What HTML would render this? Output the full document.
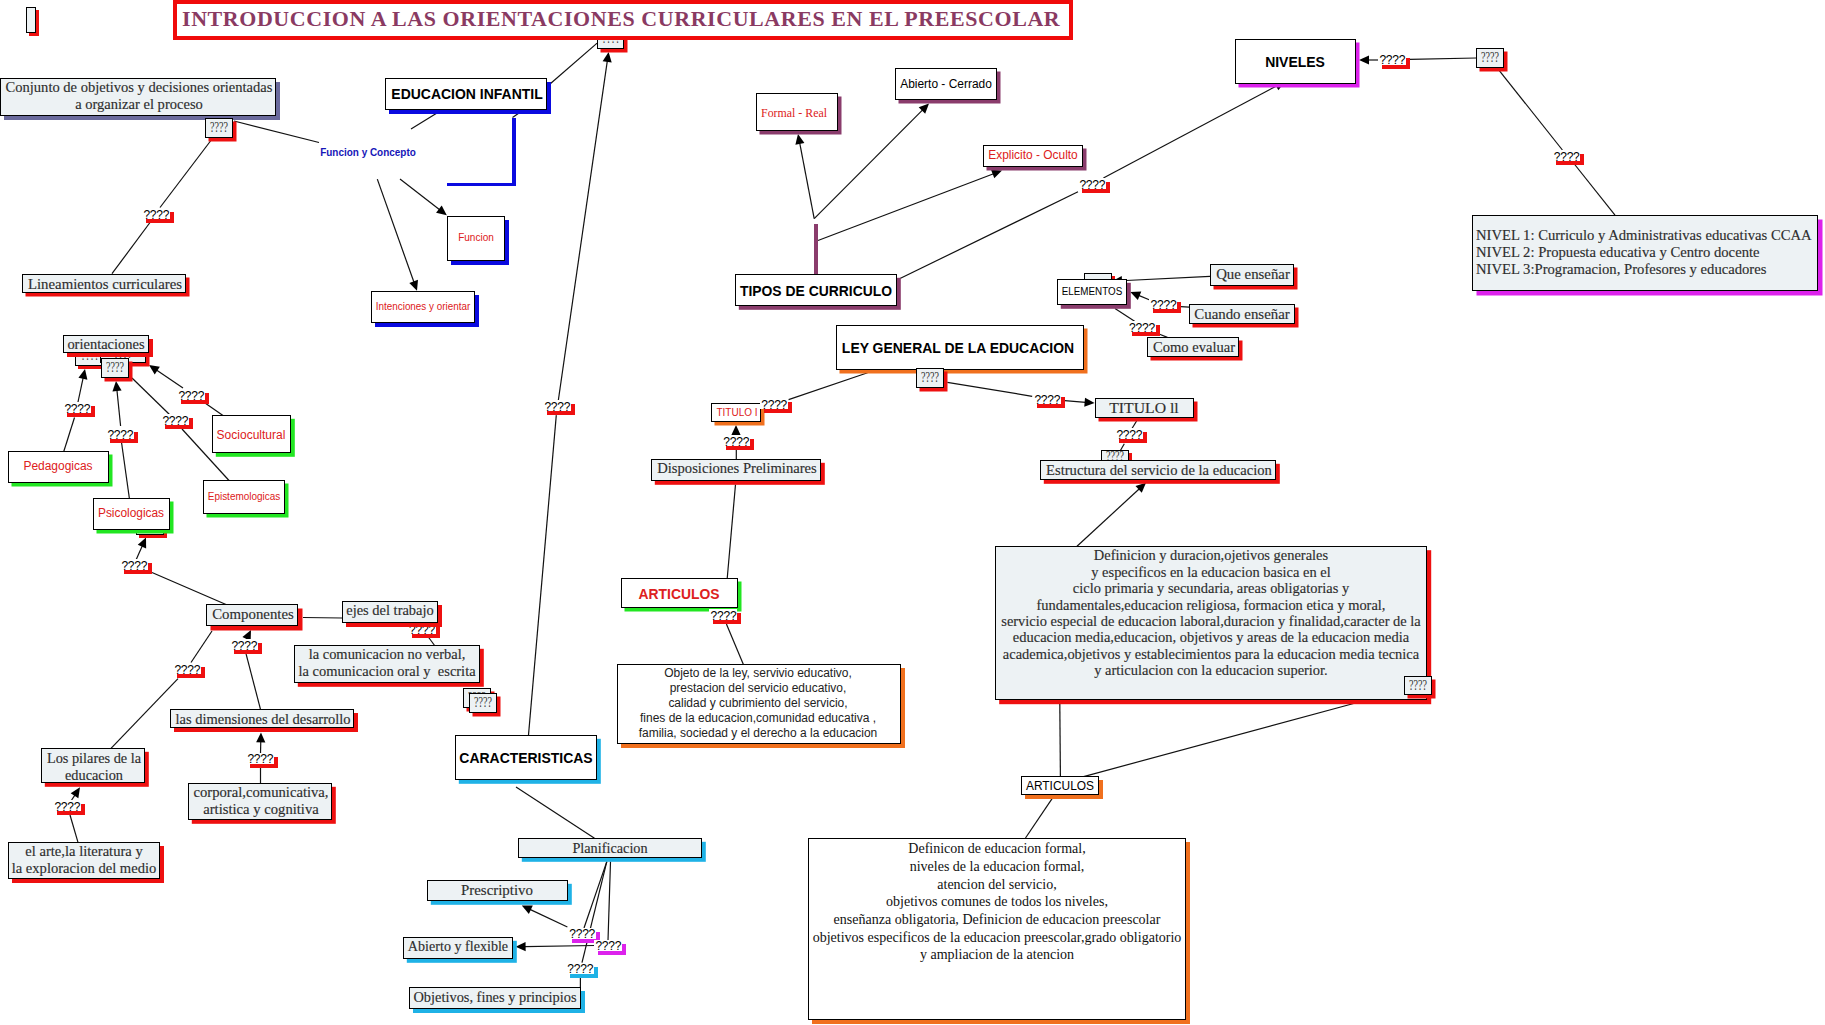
<!DOCTYPE html><html><head><meta charset="utf-8"><style>
html,body{margin:0;padding:0;background:#fff;width:1825px;height:1025px;overflow:hidden;position:relative}
.bx{position:absolute;box-sizing:border-box;border:1.2px solid #000}
.lb{position:absolute;background:#fff}
.tx{position:absolute;white-space:pre;line-height:1;display:block}
.lq{position:absolute;white-space:pre;font-family:"Liberation Sans",sans-serif;font-size:12px;line-height:12px;color:#000;letter-spacing:-0.2px}
.qb{position:absolute;white-space:pre;font-family:"Liberation Serif",serif;font-size:14px;line-height:14px;color:#333;transform:translateX(-50%) scaleX(0.72)}
svg{position:absolute;left:0;top:0}
svg line{stroke:#111;stroke-width:1.2}
svg polygon{fill:#000}
</style></head><body>
<svg width="1825" height="1025" viewBox="0 0 1825 1025">
<line x1="550" y1="84" x2="597.1" y2="43.1"/>
<line x1="234" y1="121" x2="319" y2="142.5"/>
<line x1="411" y1="129" x2="437" y2="113"/>
<line x1="512.5" y1="117.5" x2="519" y2="113"/>
<line x1="210.5" y1="141" x2="160" y2="207.5"/>
<line x1="150" y1="222.5" x2="112" y2="273.7"/>
<line x1="556.3" y1="415.1" x2="528.5" y2="735"/>
<line x1="132" y1="378" x2="170" y2="415"/>
<line x1="205" y1="403" x2="223" y2="415.5"/>
<line x1="74.5" y1="417.5" x2="63.7" y2="451.7"/>
<line x1="121.6" y1="443" x2="129.4" y2="498.5"/>
<line x1="182" y1="429" x2="229" y2="480.5"/>
<line x1="152" y1="572.5" x2="226" y2="604.5"/>
<line x1="303" y1="617.5" x2="342" y2="618"/>
<line x1="212" y1="631" x2="191" y2="662.5"/>
<line x1="178" y1="678.7" x2="111" y2="748.4"/>
<line x1="260.5" y1="709.4" x2="246" y2="653.7"/>
<line x1="70" y1="815" x2="78" y2="842.3"/>
<line x1="260.5" y1="767.4" x2="260.5" y2="783.6"/>
<line x1="427.6" y1="636" x2="434.6" y2="645.5"/>
<line x1="516" y1="787" x2="594.5" y2="838.2"/>
<line x1="606.8" y1="861.6" x2="584" y2="928"/>
<line x1="606.8" y1="861.6" x2="582" y2="962.7"/>
<line x1="610.5" y1="861.6" x2="608" y2="940.5"/>
<line x1="580.4" y1="977" x2="580.4" y2="987.4"/>
<line x1="900" y1="278.5" x2="1078" y2="191.8"/>
<line x1="1409.7" y1="59.4" x2="1476.1" y2="58"/>
<line x1="1499.5" y1="70.8" x2="1562.4" y2="150"/>
<line x1="1574.7" y1="164.5" x2="1615" y2="215.1"/>
<line x1="1180.8" y1="306.6" x2="1189.2" y2="307.2"/>
<line x1="1115" y1="308.5" x2="1134.6" y2="321.2"/>
<line x1="1159.6" y1="334.3" x2="1167.4" y2="337.4"/>
<line x1="788.6" y1="399.6" x2="867.6" y2="372.8"/>
<line x1="947.3" y1="382.3" x2="1032.2" y2="396.3"/>
<line x1="1136.6" y1="421" x2="1132" y2="428.5"/>
<line x1="1124.3" y1="443.7" x2="1120.4" y2="450.5"/>
<line x1="736.3" y1="450" x2="736.3" y2="459.2"/>
<line x1="735.5" y1="484.5" x2="727.2" y2="578.5"/>
<line x1="726.4" y1="624" x2="743.4" y2="664.4"/>
<line x1="1059.8" y1="703" x2="1060.4" y2="776.6"/>
<line x1="1083.6" y1="776.6" x2="1355.5" y2="703"/>
<line x1="1052.6" y1="797.8" x2="1025.5" y2="838"/>
<line x1="400" y1="179.1" x2="439.67" y2="209.7"/><polygon points="446.8,215.2 436.07,212.73 441.69,205.45"/>
<line x1="377.3" y1="179.1" x2="413.99" y2="282.32"/><polygon points="417,290.8 409.32,282.92 417.99,279.84"/>
<line x1="558.3" y1="400.5" x2="607.31" y2="60.91"/><polygon points="608.6,52 611.72,62.55 602.62,61.24"/>
<line x1="78" y1="402" x2="83.13" y2="377.8"/><polygon points="85,369 87.42,379.74 78.43,377.83"/>
<line x1="120.6" y1="426" x2="116.92" y2="389.95"/><polygon points="116,381 121.59,390.48 112.44,391.42"/>
<line x1="183" y1="388" x2="156.45" y2="370.04"/><polygon points="149,365 159.86,366.79 154.71,374.41"/>
<line x1="136" y1="560" x2="142.34" y2="545.72"/><polygon points="146,537.5 146.14,548.51 137.74,544.77"/>
<line x1="246" y1="640" x2="246.98" y2="638.05"/><polygon points="251,630 250.64,641 242.41,636.89"/>
<line x1="71" y1="801" x2="75.06" y2="794.82"/><polygon points="80,787.3 78.35,798.18 70.66,793.13"/>
<line x1="260.5" y1="753" x2="260.78" y2="741.4"/><polygon points="261,732.4 265.36,742.51 256.16,742.29"/>
<line x1="567.4" y1="927" x2="529.94" y2="909.34"/><polygon points="521.8,905.5 532.81,905.6 528.88,913.93"/>
<line x1="594.5" y1="945.5" x2="524.6" y2="946.56"/><polygon points="515.6,946.7 525.53,941.95 525.67,951.15"/>
<line x1="814.2" y1="218.6" x2="799.69" y2="142.84"/><polygon points="798,134 804.4,142.96 795.36,144.69"/>
<line x1="814.2" y1="218.6" x2="922.64" y2="109.87"/><polygon points="929,103.5 925.2,113.83 918.68,107.33"/>
<line x1="818" y1="240.5" x2="993.59" y2="173.7"/><polygon points="1002,170.5 994.29,178.36 991.02,169.76"/>
<line x1="1103.4" y1="178" x2="1277.05" y2="85.63"/><polygon points="1285,81.4 1278.33,90.16 1274.01,82.04"/>
<line x1="1378" y1="60" x2="1368" y2="60"/><polygon points="1359,60 1369,55.4 1369,64.6"/>
<line x1="1210" y1="276.3" x2="1120.99" y2="280.75"/><polygon points="1112,281.2 1121.76,276.11 1122.22,285.29"/>
<line x1="1149.2" y1="299.7" x2="1138.63" y2="295.4"/><polygon points="1130.3,292 1141.3,291.51 1137.83,300.03"/>
<line x1="1064.8" y1="400.6" x2="1085.63" y2="402.35"/><polygon points="1094.6,403.1 1084.25,406.85 1085.02,397.68"/>
<line x1="736" y1="436" x2="736" y2="433.9"/><polygon points="736,424.9 740.6,434.9 731.4,434.9"/>
<line x1="1077" y1="546.2" x2="1139.38" y2="488.79"/><polygon points="1146,482.7 1141.76,492.86 1135.53,486.09"/>
</svg>
<div style="position:absolute;left:512px;top:117.5px;width:3.5px;height:68.5px;background:#0a0ae0"></div>
<div style="position:absolute;left:446.5px;top:182.5px;width:69px;height:3.7px;background:#0a0ae0"></div>
<div style="position:absolute;left:814px;top:223.7px;width:3.6px;height:50.3px;background:#8a3c6c"></div>
<div class="lb" style="left:407.6px;top:623.2px;width:28px;height:11px;box-shadow:4px 4px 0 #ee1010"></div><span class="lq" style="left:409px;top:623.8px">????</span>
<div class="bx" style="left:26px;top:7px;width:10px;height:26px;background:#edf2f4;box-shadow:3px 3px 0 #ee1010"></div>
<div class="bx" style="left:0px;top:78px;width:276px;height:38px;background:#edf2f4;box-shadow:4px 4px 0 #6a6a9c"></div>
<div class="bx" style="left:205px;top:118px;width:28px;height:20px;background:#edf2f4;box-shadow:3.5px 3.5px 0 #ee1010"></div>
<span class="qb" style="left:218.85px;top:121.3px">????</span>
<div class="bx" style="left:597px;top:36px;width:27px;height:13px;background:#edf2f4;box-shadow:3.5px 3.5px 0 #ee1010"></div>
<span class="qb" style="left:610.65px;top:32.4px">????</span>
<div class="bx" style="left:385px;top:78px;width:162px;height:32px;background:#fff;box-shadow:4px 4px 0 #0a0ae0"></div>
<div class="bx" style="left:447px;top:216px;width:58px;height:45px;background:#fff;box-shadow:4px 4px 0 #0a0ae0"></div>
<div class="bx" style="left:371px;top:291px;width:104px;height:32px;background:#fff;box-shadow:4px 4px 0 #0a0ae0"></div>
<div class="bx" style="left:22px;top:274px;width:164px;height:19px;background:#edf2f4;box-shadow:3.5px 3.5px 0 #ee1010"></div>
<div class="bx" style="left:75px;top:350px;width:29px;height:16px;background:#edf2f4;box-shadow:3px 3px 0 #ee1010"></div>
<span class="qb" style="left:89.6px;top:349.1px">????</span>
<div class="bx" style="left:100px;top:350px;width:46px;height:13px;background:#edf2f4;box-shadow:3.5px 3.5px 0 #ee1010"></div>
<span class="qb" style="left:122.65px;top:346.8px">????</span>
<div class="bx" style="left:63px;top:335px;width:86px;height:18px;background:#edf2f4;box-shadow:4px 4px 0 #ee1010"></div>
<div class="bx" style="left:101px;top:358px;width:28px;height:20px;background:#edf2f4;box-shadow:3.5px 3.5px 0 #ee1010"></div>
<span class="qb" style="left:114.9px;top:361.1px">????</span>
<div class="bx" style="left:212px;top:415px;width:79px;height:38px;background:#fff;box-shadow:3.8px 3.8px 0 #22e622"></div>
<div class="bx" style="left:8px;top:451px;width:101px;height:32px;background:#fff;box-shadow:3.5px 3.5px 0 #22e622"></div>
<div class="bx" style="left:203px;top:480px;width:82px;height:34px;background:#fff;box-shadow:3.5px 3.5px 0 #22e622"></div>
<div class="bx" style="left:136px;top:520px;width:28px;height:15px;background:#edf2f4;box-shadow:3px 3px 0 #ee1010"></div>
<div class="bx" style="left:93px;top:498px;width:77px;height:32px;background:#fff;box-shadow:3.5px 3.5px 0 #22e622"></div>
<div class="bx" style="left:206px;top:604px;width:92px;height:22px;background:#edf2f4;box-shadow:4.5px 4.5px 0 #ee1010"></div>
<div class="bx" style="left:342px;top:601px;width:96px;height:22px;background:#edf2f4;box-shadow:4px 4px 0 #ee1010"></div>
<div class="bx" style="left:294px;top:645px;width:186px;height:38px;background:#edf2f4;box-shadow:3.8px 3.8px 0 #ee1010"></div>
<div class="bx" style="left:463px;top:688px;width:28px;height:20px;background:#edf2f4;box-shadow:3.5px 3.5px 0 #ee1010"></div>
<span class="qb" style="left:477.15px;top:691.2px">????</span>
<div class="bx" style="left:469px;top:693px;width:28px;height:20px;background:#edf2f4;box-shadow:3.5px 3.5px 0 #ee1010"></div>
<span class="qb" style="left:483.25px;top:696.2px">????</span>
<div class="bx" style="left:170px;top:709px;width:184px;height:19px;background:#edf2f4;box-shadow:4px 4px 0 #ee1010"></div>
<div class="bx" style="left:41px;top:748px;width:104px;height:35px;background:#edf2f4;box-shadow:3.8px 3.8px 0 #ee1010"></div>
<div class="bx" style="left:188px;top:783px;width:144px;height:37px;background:#edf2f4;box-shadow:3.8px 3.8px 0 #ee1010"></div>
<div class="bx" style="left:8px;top:842px;width:152px;height:37px;background:#edf2f4;box-shadow:4px 4px 0 #ee1010"></div>
<div class="bx" style="left:455px;top:735px;width:142px;height:45px;background:#fff;box-shadow:3.8px 3.8px 0 #1fb2e6"></div>
<div class="bx" style="left:518px;top:838px;width:184px;height:20px;background:#edf2f4;box-shadow:3.8px 3.8px 0 #1fb2e6"></div>
<div class="bx" style="left:427px;top:880px;width:141px;height:21px;background:#edf2f4;box-shadow:3.8px 3.8px 0 #1fb2e6"></div>
<div class="bx" style="left:403px;top:937px;width:110px;height:22px;background:#edf2f4;box-shadow:3.8px 3.8px 0 #1fb2e6"></div>
<div class="bx" style="left:409px;top:987px;width:172px;height:22px;background:#edf2f4;box-shadow:4px 4px 0 #1fb2e6"></div>
<div class="bx" style="left:756px;top:93px;width:82px;height:38px;background:#fff;box-shadow:3.5px 3.5px 0 #8a3c6c"></div>
<div class="bx" style="left:895px;top:68px;width:102px;height:32px;background:#fff;box-shadow:3.5px 3.5px 0 #8a3c6c"></div>
<div class="bx" style="left:983px;top:145px;width:100px;height:22px;background:#fff;box-shadow:3.5px 3.5px 0 #8a3c6c"></div>
<div class="bx" style="left:735px;top:274px;width:162px;height:32px;background:#fff;box-shadow:3.8px 3.8px 0 #8a3c6c"></div>
<div class="bx" style="left:1235px;top:39px;width:121px;height:45px;background:#fff;box-shadow:3.5px 3.5px 0 #dc22ec"></div>
<div class="bx" style="left:1476px;top:48px;width:28px;height:20px;background:#edf2f4;box-shadow:3.5px 3.5px 0 #ee1010"></div>
<span class="qb" style="left:1489.7px;top:51px">????</span>
<div class="bx" style="left:1472px;top:215px;width:346px;height:76px;background:#edf2f4;box-shadow:4.5px 4.5px 0 #dc22ec"></div>
<div class="bx" style="left:1084px;top:273px;width:28px;height:23px;background:#edf2f4;box-shadow:3px 3px 0 #ee1010"></div>
<span class="qb" style="left:1097.95px;top:279.7px">????</span>
<div class="bx" style="left:1057px;top:279px;width:70px;height:26px;background:#fff;box-shadow:3.8px 3.8px 0 #8a3c6c"></div>
<div class="bx" style="left:1210px;top:264px;width:84px;height:22px;background:#edf2f4;box-shadow:3.5px 3.5px 0 #ee1010"></div>
<div class="bx" style="left:1189px;top:304px;width:106px;height:20px;background:#edf2f4;box-shadow:3.5px 3.5px 0 #ee1010"></div>
<div class="bx" style="left:1147px;top:337px;width:92px;height:20px;background:#edf2f4;box-shadow:3.5px 3.5px 0 #ee1010"></div>
<div class="bx" style="left:836px;top:325px;width:248px;height:45px;background:#fff;box-shadow:3.5px 3.5px 0 #f0701e"></div>
<div class="bx" style="left:916px;top:368px;width:28px;height:20px;background:#edf2f4;box-shadow:3.5px 3.5px 0 #ee1010"></div>
<span class="qb" style="left:929.8px;top:371.3px">????</span>
<div class="bx" style="left:711px;top:403px;width:50px;height:19px;background:#fff;box-shadow:3.5px 3.5px 0 #f0701e"></div>
<div class="bx" style="left:1095px;top:398px;width:99px;height:20px;background:#edf2f4;box-shadow:3.5px 3.5px 0 #ee1010"></div>
<div class="bx" style="left:651px;top:459px;width:170px;height:22px;background:#edf2f4;box-shadow:3.8px 3.8px 0 #ee1010"></div>
<div class="bx" style="left:1101px;top:450px;width:28px;height:16px;background:#edf2f4;box-shadow:3px 3px 0 #ee1010"></div>
<span class="qb" style="left:1115.05px;top:449.7px">????</span>
<div class="bx" style="left:1040px;top:460px;width:236px;height:20px;background:#edf2f4;box-shadow:3.8px 3.8px 0 #ee1010"></div>
<div class="bx" style="left:621px;top:578px;width:117px;height:30px;background:#fff;box-shadow:3.5px 3.5px 0 #22e622"></div>
<div class="bx" style="left:617px;top:664px;width:284px;height:80px;background:#fff;box-shadow:4px 4px 0 #f0701e"></div>
<div class="bx" style="left:995px;top:546px;width:432px;height:154px;background:#edf2f4;box-shadow:4.2px 4.2px 0 #ee1010"></div>
<div class="bx" style="left:1404px;top:676px;width:28px;height:19px;background:#edf2f4;box-shadow:3.5px 3.5px 0 #ee1010"></div>
<span class="qb" style="left:1417.75px;top:678.7px">????</span>
<div class="bx" style="left:1021px;top:776px;width:78px;height:19px;background:#fff;box-shadow:4px 4px 0 #f0701e"></div>
<div class="bx" style="left:808px;top:838px;width:378px;height:182px;background:#fff;box-shadow:4px 4px 0 #f0701e"></div>
<div style="position:absolute;left:172.5px;top:-0.5px;width:900.5px;height:40px;box-sizing:border-box;border:4px solid #f00a0a;background:#fff"></div>
<div class="lb" style="left:142px;top:207.9px;width:28px;height:11px;box-shadow:4px 4px 0 #ee1010"></div><span class="lq" style="left:143.4px;top:208.5px">????</span>
<div class="lb" style="left:177px;top:389.2px;width:28px;height:11px;box-shadow:4px 4px 0 #ee1010"></div><span class="lq" style="left:178.4px;top:389.8px">????</span>
<div class="lb" style="left:63px;top:402.4px;width:28px;height:11px;box-shadow:4px 4px 0 #ee1010"></div><span class="lq" style="left:64.4px;top:403px">????</span>
<div class="lb" style="left:161px;top:414.2px;width:28px;height:11px;box-shadow:4px 4px 0 #ee1010"></div><span class="lq" style="left:162.4px;top:414.8px">????</span>
<div class="lb" style="left:106px;top:427.9px;width:28px;height:11px;box-shadow:4px 4px 0 #ee1010"></div><span class="lq" style="left:107.4px;top:428.5px">????</span>
<div class="lb" style="left:120px;top:559.2px;width:28px;height:11px;box-shadow:4px 4px 0 #ee1010"></div><span class="lq" style="left:121.4px;top:559.8px">????</span>
<div class="lb" style="left:230px;top:639.2px;width:28px;height:11px;box-shadow:4px 4px 0 #ee1010"></div><span class="lq" style="left:231.4px;top:639.8px">????</span>
<div class="lb" style="left:173px;top:662.9px;width:28px;height:11px;box-shadow:4px 4px 0 #ee1010"></div><span class="lq" style="left:174.4px;top:663.5px">????</span>
<div class="lb" style="left:246px;top:752.8px;width:28px;height:11px;box-shadow:4px 4px 0 #ee1010"></div><span class="lq" style="left:247.4px;top:753.4px">????</span>
<div class="lb" style="left:53px;top:800.2px;width:28px;height:11px;box-shadow:4px 4px 0 #ee1010"></div><span class="lq" style="left:54.4px;top:800.8px">????</span>
<div class="lb" style="left:709.2px;top:609.2px;width:28px;height:11px;box-shadow:4px 4px 0 #ee1010"></div><span class="lq" style="left:710.6px;top:609.8px">????</span>
<div class="lb" style="left:759.8px;top:398.2px;width:28px;height:11px;box-shadow:4px 4px 0 #ee1010"></div><span class="lq" style="left:761.2px;top:398.8px">????</span>
<div class="lb" style="left:721.9px;top:435.2px;width:28px;height:11px;box-shadow:4px 4px 0 #ee1010"></div><span class="lq" style="left:723.3px;top:435.8px">????</span>
<div class="lb" style="left:1033px;top:393.2px;width:28px;height:11px;box-shadow:4px 4px 0 #ee1010"></div><span class="lq" style="left:1034.4px;top:393.8px">????</span>
<div class="lb" style="left:1115px;top:428px;width:28px;height:11px;box-shadow:4px 4px 0 #ee1010"></div><span class="lq" style="left:1116.4px;top:428.6px">????</span>
<div class="lb" style="left:1149.2px;top:298.2px;width:28px;height:11px;box-shadow:4px 4px 0 #ee1010"></div><span class="lq" style="left:1150.6px;top:298.8px">????</span>
<div class="lb" style="left:1127.7px;top:321.2px;width:28px;height:11px;box-shadow:4px 4px 0 #ee1010"></div><span class="lq" style="left:1129.1px;top:321.8px">????</span>
<div class="lb" style="left:1078px;top:178.2px;width:28px;height:11px;box-shadow:4px 4px 0 #ee1010"></div><span class="lq" style="left:1079.4px;top:178.8px">????</span>
<div class="lb" style="left:1378px;top:53.7px;width:28px;height:11px;box-shadow:4px 4px 0 #ee1010"></div><span class="lq" style="left:1379.4px;top:54.3px">????</span>
<div class="lb" style="left:1552.3px;top:150.2px;width:28px;height:11px;box-shadow:4px 4px 0 #ee1010"></div><span class="lq" style="left:1553.7px;top:150.8px">????</span>
<div class="lb" style="left:567.8px;top:927.8px;width:28px;height:11px;box-shadow:4px 4px 0 #dc22ec"></div><span class="lq" style="left:569.2px;top:928.4px">????</span>
<div class="lb" style="left:594px;top:939.6px;width:28px;height:11px;box-shadow:4px 4px 0 #dc22ec"></div><span class="lq" style="left:595.4px;top:940.2px">????</span>
<div class="lb" style="left:565.9px;top:962.5px;width:28px;height:11px;box-shadow:4px 4px 0 #1fb2e6"></div><span class="lq" style="left:567.3px;top:963.1px">????</span>
<div class="lb" style="left:543px;top:399.9px;width:28px;height:11px;box-shadow:4px 4px 0 #ee1010"></div><span class="lq" style="left:544.4px;top:400.5px">????</span>
<span class="tx" style="left:182.3px;top:8.71px;font-family:&quot;Liberation Serif&quot;, serif;font-size:21px;font-weight:bold;color:#8a3a62;transform:scaleX(1.0450);transform-origin:left top;letter-spacing:0.566px">INTRODUCCION A LAS ORIENTACIONES CURRICULARES EN EL PREESCOLAR</span>
<span class="tx" style="left:138.9px;top:80.14px;font-family:&quot;Liberation Serif&quot;, serif;font-size:15px;font-weight:normal;color:#2e2e2e;transform:translateX(-50%) scaleX(0.9690);transform-origin:center top;-webkit-text-stroke:0.15px #2e2e2e">Conjunto de objetivos y decisiones orientadas</span>
<span class="tx" style="left:138.9px;top:96.84px;font-family:&quot;Liberation Serif&quot;, serif;font-size:15px;font-weight:normal;color:#2e2e2e;transform:translateX(-50%) scaleX(0.9690);transform-origin:center top;-webkit-text-stroke:0.15px #2e2e2e">a organizar el proceso</span>
<span class="tx" style="left:466.6px;top:87.35px;font-family:&quot;Liberation Sans&quot;, sans-serif;font-size:14px;font-weight:bold;color:#000;transform:translateX(-50%) scaleX(0.9980);transform-origin:center top">EDUCACION INFANTIL</span>
<span class="tx" style="left:368.2px;top:148.03px;font-family:&quot;Liberation Sans&quot;, sans-serif;font-size:10px;font-weight:bold;color:#1616b8;transform:translateX(-50%) scaleX(0.9948);transform-origin:center top">Funcion y Concepto</span>
<span class="tx" style="left:476px;top:233.03px;font-family:&quot;Liberation Sans&quot;, sans-serif;font-size:10px;font-weight:normal;color:#dd2020;transform:translateX(-50%) scaleX(1.0024);transform-origin:center top">Funcion</span>
<span class="tx" style="left:423px;top:301.54px;font-family:&quot;Liberation Sans&quot;, sans-serif;font-size:10px;font-weight:normal;color:#dd2020;transform:translateX(-50%) scaleX(0.9877);transform-origin:center top">Intenciones y orientar</span>
<span class="tx" style="left:104.6px;top:276.94px;font-family:&quot;Liberation Serif&quot;, serif;font-size:15px;font-weight:normal;color:#2e2e2e;transform:translateX(-50%) scaleX(0.9863);transform-origin:center top;-webkit-text-stroke:0.15px #2e2e2e">Lineamientos curriculares</span>
<span class="tx" style="left:106.1px;top:336.94px;font-family:&quot;Liberation Serif&quot;, serif;font-size:15px;font-weight:normal;color:#2e2e2e;transform:translateX(-50%) scaleX(0.9659);transform-origin:center top;-webkit-text-stroke:0.15px #2e2e2e">orientaciones</span>
<span class="tx" style="left:251.4px;top:428.84px;font-family:&quot;Liberation Sans&quot;, sans-serif;font-size:12px;font-weight:normal;color:#dd2020;transform:translateX(-50%) scaleX(1.0024);transform-origin:center top">Sociocultural</span>
<span class="tx" style="left:57.8px;top:459.84px;font-family:&quot;Liberation Sans&quot;, sans-serif;font-size:12px;font-weight:normal;color:#dd2020;transform:translateX(-50%) scaleX(0.9973);transform-origin:center top">Pedagogicas</span>
<span class="tx" style="left:244.3px;top:492.04px;font-family:&quot;Liberation Sans&quot;, sans-serif;font-size:10px;font-weight:normal;color:#dd2020;transform:translateX(-50%) scaleX(0.9957);transform-origin:center top">Epistemologicas</span>
<span class="tx" style="left:131.3px;top:506.84px;font-family:&quot;Liberation Sans&quot;, sans-serif;font-size:12px;font-weight:normal;color:#dd2020;transform:translateX(-50%) scaleX(0.9910);transform-origin:center top">Psicologicas</span>
<span class="tx" style="left:252.9px;top:606.94px;font-family:&quot;Liberation Serif&quot;, serif;font-size:15px;font-weight:normal;color:#2e2e2e;transform:translateX(-50%) scaleX(0.9884);transform-origin:center top;-webkit-text-stroke:0.15px #2e2e2e">Componentes</span>
<span class="tx" style="left:389.7px;top:603.44px;font-family:&quot;Liberation Serif&quot;, serif;font-size:15px;font-weight:normal;color:#2e2e2e;transform:translateX(-50%) scaleX(0.9636);transform-origin:center top;-webkit-text-stroke:0.15px #2e2e2e">ejes del trabajo</span>
<span class="tx" style="left:386.8px;top:646.94px;font-family:&quot;Liberation Serif&quot;, serif;font-size:15px;font-weight:normal;color:#2e2e2e;transform:translateX(-50%) scaleX(0.9646);transform-origin:center top;-webkit-text-stroke:0.15px #2e2e2e">la comunicacion no verbal,</span>
<span class="tx" style="left:386.8px;top:663.64px;font-family:&quot;Liberation Serif&quot;, serif;font-size:15px;font-weight:normal;color:#2e2e2e;transform:translateX(-50%) scaleX(0.9646);transform-origin:center top;-webkit-text-stroke:0.15px #2e2e2e">la comunicacion oral y  escrita</span>
<span class="tx" style="left:262.8px;top:711.94px;font-family:&quot;Liberation Serif&quot;, serif;font-size:15px;font-weight:normal;color:#2e2e2e;transform:translateX(-50%) scaleX(0.9656);transform-origin:center top;-webkit-text-stroke:0.15px #2e2e2e">las dimensiones del desarrollo</span>
<span class="tx" style="left:93.5px;top:751.24px;font-family:&quot;Liberation Serif&quot;, serif;font-size:15px;font-weight:normal;color:#2e2e2e;transform:translateX(-50%) scaleX(0.9540);transform-origin:center top;-webkit-text-stroke:0.15px #2e2e2e">Los pilares de la</span>
<span class="tx" style="left:93.5px;top:767.94px;font-family:&quot;Liberation Serif&quot;, serif;font-size:15px;font-weight:normal;color:#2e2e2e;transform:translateX(-50%) scaleX(0.9540);transform-origin:center top;-webkit-text-stroke:0.15px #2e2e2e">educacion</span>
<span class="tx" style="left:260.9px;top:785.44px;font-family:&quot;Liberation Serif&quot;, serif;font-size:15px;font-weight:normal;color:#2e2e2e;transform:translateX(-50%) scaleX(0.9766);transform-origin:center top;-webkit-text-stroke:0.15px #2e2e2e">corporal,comunicativa,</span>
<span class="tx" style="left:260.9px;top:802.14px;font-family:&quot;Liberation Serif&quot;, serif;font-size:15px;font-weight:normal;color:#2e2e2e;transform:translateX(-50%) scaleX(0.9766);transform-origin:center top;-webkit-text-stroke:0.15px #2e2e2e">artistica y cognitiva</span>
<span class="tx" style="left:84.1px;top:843.94px;font-family:&quot;Liberation Serif&quot;, serif;font-size:15px;font-weight:normal;color:#2e2e2e;transform:translateX(-50%) scaleX(0.9730);transform-origin:center top;-webkit-text-stroke:0.15px #2e2e2e">el arte,la literatura y</span>
<span class="tx" style="left:84.1px;top:860.64px;font-family:&quot;Liberation Serif&quot;, serif;font-size:15px;font-weight:normal;color:#2e2e2e;transform:translateX(-50%) scaleX(0.9730);transform-origin:center top;-webkit-text-stroke:0.15px #2e2e2e">la exploracion del medio</span>
<span class="tx" style="left:526px;top:750.65px;font-family:&quot;Liberation Sans&quot;, sans-serif;font-size:14px;font-weight:bold;color:#000;transform:translateX(-50%) scaleX(0.9967);transform-origin:center top">CARACTERISTICAS</span>
<span class="tx" style="left:609.7px;top:840.94px;font-family:&quot;Liberation Serif&quot;, serif;font-size:15px;font-weight:normal;color:#2e2e2e;transform:translateX(-50%) scaleX(0.9505);transform-origin:center top;-webkit-text-stroke:0.15px #2e2e2e">Planificacion</span>
<span class="tx" style="left:497.2px;top:883.44px;font-family:&quot;Liberation Serif&quot;, serif;font-size:15px;font-weight:normal;color:#2e2e2e;transform:translateX(-50%) scaleX(0.9932);transform-origin:center top;-webkit-text-stroke:0.15px #2e2e2e">Prescriptivo</span>
<span class="tx" style="left:457.9px;top:939.44px;font-family:&quot;Liberation Serif&quot;, serif;font-size:15px;font-weight:normal;color:#2e2e2e;transform:translateX(-50%) scaleX(0.9404);transform-origin:center top;-webkit-text-stroke:0.15px #2e2e2e">Abierto y flexible</span>
<span class="tx" style="left:494.9px;top:989.94px;font-family:&quot;Liberation Serif&quot;, serif;font-size:15px;font-weight:normal;color:#2e2e2e;transform:translateX(-50%) scaleX(0.9592);transform-origin:center top;-webkit-text-stroke:0.15px #2e2e2e">Objetivos, fines y principios</span>
<span class="tx" style="left:794.3px;top:107.45px;font-family:&quot;Liberation Serif&quot;, serif;font-size:12px;font-weight:normal;color:#dd2020;transform:translateX(-50%) scaleX(0.9894);transform-origin:center top">Formal - Real</span>
<span class="tx" style="left:946px;top:78.34px;font-family:&quot;Liberation Sans&quot;, sans-serif;font-size:12px;font-weight:normal;color:#000;transform:translateX(-50%) scaleX(0.9960);transform-origin:center top">Abierto - Cerrado</span>
<span class="tx" style="left:1033.3px;top:149.34px;font-family:&quot;Liberation Sans&quot;, sans-serif;font-size:12px;font-weight:normal;color:#dd2020;transform:translateX(-50%) scaleX(0.9939);transform-origin:center top">Explicito - Oculto</span>
<span class="tx" style="left:815.7px;top:283.65px;font-family:&quot;Liberation Sans&quot;, sans-serif;font-size:14px;font-weight:bold;color:#000;transform:translateX(-50%) scaleX(0.9932);transform-origin:center top">TIPOS DE CURRICULO</span>
<span class="tx" style="left:1295px;top:54.65px;font-family:&quot;Liberation Sans&quot;, sans-serif;font-size:14px;font-weight:bold;color:#000;transform:translateX(-50%) scaleX(0.9972);transform-origin:center top">NIVELES</span>
<span class="tx" style="left:1476.1px;top:228.44px;font-family:&quot;Liberation Serif&quot;, serif;font-size:15px;font-weight:normal;color:#2e2e2e;transform:scaleX(0.9771);transform-origin:left top;-webkit-text-stroke:0.15px #2e2e2e">NIVEL 1: Curriculo y Administrativas educativas CCAA</span>
<span class="tx" style="left:1476.1px;top:245.14px;font-family:&quot;Liberation Serif&quot;, serif;font-size:15px;font-weight:normal;color:#2e2e2e;transform:scaleX(0.9771);transform-origin:left top;-webkit-text-stroke:0.15px #2e2e2e">NIVEL 2: Propuesta educativa y Centro docente</span>
<span class="tx" style="left:1476.1px;top:261.84px;font-family:&quot;Liberation Serif&quot;, serif;font-size:15px;font-weight:normal;color:#2e2e2e;transform:scaleX(0.9771);transform-origin:left top;-webkit-text-stroke:0.15px #2e2e2e">NIVEL 3:Programacion, Profesores y educadores</span>
<span class="tx" style="left:1091.9px;top:287.04px;font-family:&quot;Liberation Sans&quot;, sans-serif;font-size:10px;font-weight:normal;color:#000;transform:translateX(-50%) scaleX(0.9834);transform-origin:center top">ELEMENTOS</span>
<span class="tx" style="left:1252.5px;top:267.44px;font-family:&quot;Liberation Serif&quot;, serif;font-size:15px;font-weight:normal;color:#2e2e2e;transform:translateX(-50%) scaleX(0.9886);transform-origin:center top;-webkit-text-stroke:0.15px #2e2e2e">Que enseñar</span>
<span class="tx" style="left:1242.3px;top:306.94px;font-family:&quot;Liberation Serif&quot;, serif;font-size:15px;font-weight:normal;color:#2e2e2e;transform:translateX(-50%) scaleX(0.9925);transform-origin:center top;-webkit-text-stroke:0.15px #2e2e2e">Cuando enseñar</span>
<span class="tx" style="left:1193.7px;top:339.94px;font-family:&quot;Liberation Serif&quot;, serif;font-size:15px;font-weight:normal;color:#2e2e2e;transform:translateX(-50%) scaleX(0.9709);transform-origin:center top;-webkit-text-stroke:0.15px #2e2e2e">Como evaluar</span>
<span class="tx" style="left:957.9px;top:340.65px;font-family:&quot;Liberation Sans&quot;, sans-serif;font-size:14px;font-weight:bold;color:#000;transform:translateX(-50%) scaleX(0.9965);transform-origin:center top">LEY GENERAL DE LA EDUCACION</span>
<span class="tx" style="left:736.5px;top:407.54px;font-family:&quot;Liberation Sans&quot;, sans-serif;font-size:10px;font-weight:normal;color:#dd2020;transform:translateX(-50%) scaleX(0.9991);transform-origin:center top">TITULO I</span>
<span class="tx" style="left:1143.9px;top:401.44px;font-family:&quot;Liberation Serif&quot;, serif;font-size:15px;font-weight:normal;color:#2e2e2e;transform:translateX(-50%) scaleX(1.0490);transform-origin:center top;-webkit-text-stroke:0.15px #2e2e2e">TITULO ll</span>
<span class="tx" style="left:736.8px;top:460.94px;font-family:&quot;Liberation Serif&quot;, serif;font-size:15px;font-weight:normal;color:#2e2e2e;transform:translateX(-50%) scaleX(0.9744);transform-origin:center top;-webkit-text-stroke:0.15px #2e2e2e">Disposiciones Preliminares</span>
<span class="tx" style="left:1158.5px;top:462.94px;font-family:&quot;Liberation Serif&quot;, serif;font-size:15px;font-weight:normal;color:#2e2e2e;transform:translateX(-50%) scaleX(0.9734);transform-origin:center top;-webkit-text-stroke:0.15px #2e2e2e">Estructura del servicio de la educacion</span>
<span class="tx" style="left:678.7px;top:586.65px;font-family:&quot;Liberation Sans&quot;, sans-serif;font-size:14px;font-weight:bold;color:#dd2020;transform:translateX(-50%) scaleX(0.9911);transform-origin:center top">ARTICULOS</span>
<span class="tx" style="left:758.3px;top:666.84px;font-family:&quot;Liberation Sans&quot;, sans-serif;font-size:12px;font-weight:normal;color:#222;transform:translateX(-50%) scaleX(0.9990);transform-origin:center top">Objeto de la ley, servivio educativo,</span>
<span class="tx" style="left:758.3px;top:681.84px;font-family:&quot;Liberation Sans&quot;, sans-serif;font-size:12px;font-weight:normal;color:#222;transform:translateX(-50%) scaleX(0.9990);transform-origin:center top">prestacion del servicio educativo,</span>
<span class="tx" style="left:758.3px;top:696.84px;font-family:&quot;Liberation Sans&quot;, sans-serif;font-size:12px;font-weight:normal;color:#222;transform:translateX(-50%) scaleX(0.9990);transform-origin:center top">calidad y cubrimiento del servicio,</span>
<span class="tx" style="left:758.3px;top:711.84px;font-family:&quot;Liberation Sans&quot;, sans-serif;font-size:12px;font-weight:normal;color:#222;transform:translateX(-50%) scaleX(0.9990);transform-origin:center top">fines de la educacion,comunidad educativa ,</span>
<span class="tx" style="left:758.3px;top:726.84px;font-family:&quot;Liberation Sans&quot;, sans-serif;font-size:12px;font-weight:normal;color:#222;transform:translateX(-50%) scaleX(0.9990);transform-origin:center top">familia, sociedad y el derecho a la educacion</span>
<span class="tx" style="left:1210.9px;top:548.24px;font-family:&quot;Liberation Serif&quot;, serif;font-size:15px;font-weight:normal;color:#2e2e2e;transform:translateX(-50%) scaleX(0.9630);transform-origin:center top;-webkit-text-stroke:0.15px #2e2e2e">Definicion y duracion,ojetivos generales</span>
<span class="tx" style="left:1210.9px;top:564.69px;font-family:&quot;Liberation Serif&quot;, serif;font-size:15px;font-weight:normal;color:#2e2e2e;transform:translateX(-50%) scaleX(0.9630);transform-origin:center top;-webkit-text-stroke:0.15px #2e2e2e">y especificos en la educacion basica en el</span>
<span class="tx" style="left:1210.9px;top:581.14px;font-family:&quot;Liberation Serif&quot;, serif;font-size:15px;font-weight:normal;color:#2e2e2e;transform:translateX(-50%) scaleX(0.9630);transform-origin:center top;-webkit-text-stroke:0.15px #2e2e2e">ciclo primaria y secundaria, areas obligatorias y</span>
<span class="tx" style="left:1210.9px;top:597.59px;font-family:&quot;Liberation Serif&quot;, serif;font-size:15px;font-weight:normal;color:#2e2e2e;transform:translateX(-50%) scaleX(0.9630);transform-origin:center top;-webkit-text-stroke:0.15px #2e2e2e">fundamentales,educacion religiosa, formacion etica y moral,</span>
<span class="tx" style="left:1210.9px;top:614.04px;font-family:&quot;Liberation Serif&quot;, serif;font-size:15px;font-weight:normal;color:#2e2e2e;transform:translateX(-50%) scaleX(0.9630);transform-origin:center top;-webkit-text-stroke:0.15px #2e2e2e">servicio especial de educacion laboral,duracion y finalidad,caracter de la</span>
<span class="tx" style="left:1210.9px;top:630.49px;font-family:&quot;Liberation Serif&quot;, serif;font-size:15px;font-weight:normal;color:#2e2e2e;transform:translateX(-50%) scaleX(0.9630);transform-origin:center top;-webkit-text-stroke:0.15px #2e2e2e">educacion media,educacion, objetivos y areas de la educacion media</span>
<span class="tx" style="left:1210.9px;top:646.94px;font-family:&quot;Liberation Serif&quot;, serif;font-size:15px;font-weight:normal;color:#2e2e2e;transform:translateX(-50%) scaleX(0.9630);transform-origin:center top;-webkit-text-stroke:0.15px #2e2e2e">academica,objetivos y establecimientos para la educacion media tecnica</span>
<span class="tx" style="left:1210.9px;top:663.39px;font-family:&quot;Liberation Serif&quot;, serif;font-size:15px;font-weight:normal;color:#2e2e2e;transform:translateX(-50%) scaleX(0.9630);transform-origin:center top;-webkit-text-stroke:0.15px #2e2e2e">y articulacion con la educacion superior.</span>
<span class="tx" style="left:1060.1px;top:779.84px;font-family:&quot;Liberation Sans&quot;, sans-serif;font-size:12px;font-weight:normal;color:#000;transform:translateX(-50%) scaleX(0.9933);transform-origin:center top">ARTICULOS</span>
<span class="tx" style="left:997.4px;top:842.27px;font-family:&quot;Liberation Serif&quot;, serif;font-size:14px;font-weight:normal;color:#111;transform:translateX(-50%) scaleX(1.0009);transform-origin:center top">Definicon de educacion formal,</span>
<span class="tx" style="left:997.4px;top:859.98px;font-family:&quot;Liberation Serif&quot;, serif;font-size:14px;font-weight:normal;color:#111;transform:translateX(-50%) scaleX(1.0009);transform-origin:center top">niveles de la educacion formal,</span>
<span class="tx" style="left:997.4px;top:877.67px;font-family:&quot;Liberation Serif&quot;, serif;font-size:14px;font-weight:normal;color:#111;transform:translateX(-50%) scaleX(1.0009);transform-origin:center top">atencion del servicio,</span>
<span class="tx" style="left:997.4px;top:895.38px;font-family:&quot;Liberation Serif&quot;, serif;font-size:14px;font-weight:normal;color:#111;transform:translateX(-50%) scaleX(1.0009);transform-origin:center top">objetivos comunes de todos los niveles,</span>
<span class="tx" style="left:997.4px;top:913.07px;font-family:&quot;Liberation Serif&quot;, serif;font-size:14px;font-weight:normal;color:#111;transform:translateX(-50%) scaleX(1.0009);transform-origin:center top">enseñanza obligatoria, Definicion de educacion preescolar</span>
<span class="tx" style="left:997.4px;top:930.77px;font-family:&quot;Liberation Serif&quot;, serif;font-size:14px;font-weight:normal;color:#111;transform:translateX(-50%) scaleX(1.0009);transform-origin:center top">objetivos especificos de la educacion preescolar,grado obligatorio</span>
<span class="tx" style="left:997.4px;top:948.48px;font-family:&quot;Liberation Serif&quot;, serif;font-size:14px;font-weight:normal;color:#111;transform:translateX(-50%) scaleX(1.0009);transform-origin:center top">y ampliacion de la atencion</span>
</body></html>
